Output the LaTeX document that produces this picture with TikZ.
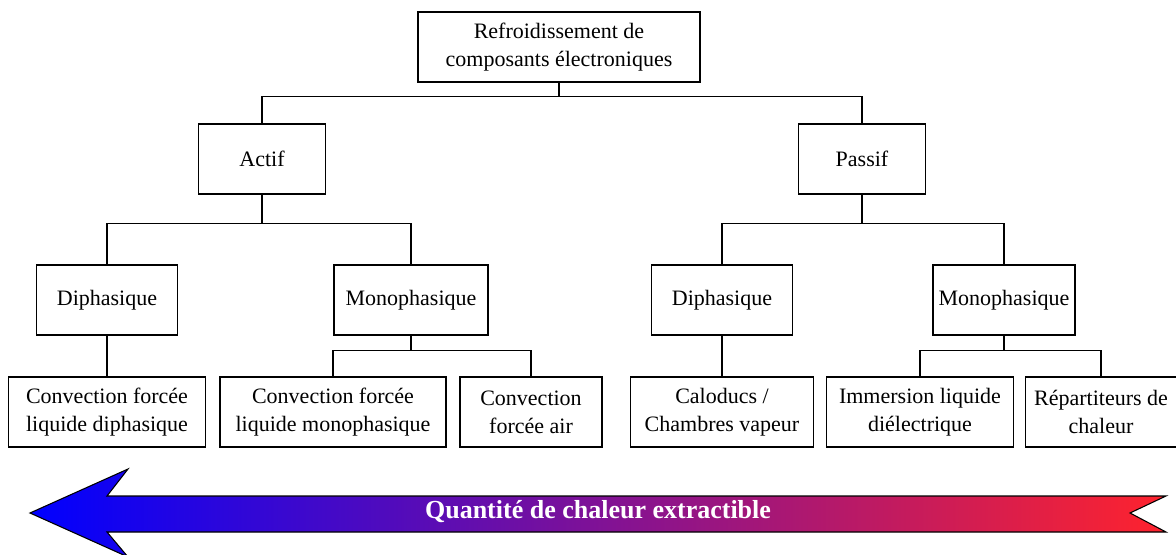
\documentclass[tikz,border=0pt]{standalone}
\usepackage{fontspec}
\setmainfont{Liberation Serif}
\usetikzlibrary{positioning}
\definecolor{froidbleu}{RGB}{0,0,255}
\definecolor{tiede}{RGB}{125,15,165}
\definecolor{chaudrouge}{RGB}{255,35,45}

\begin{document}
\begin{tikzpicture}[on grid, font=\fontsize{16.5}{21}\selectfont,
    box/.style = {draw, line width=0.8pt, align=center, minimum height=52.5pt, inner sep=2pt},
    link/.style = {line width=0.8pt}]
                \useasboundingbox (0,0) rectangle (882pt,-416.25pt);

                \node (R) [box, minimum width=211.5pt] at (419.25pt,-35.25pt) {Refroidissement de\\composants électroniques};

                \node (A) [box, minimum width=95.25pt, below left = 84pt and 222.75pt of R] {Actif};
                \node (P) [box, minimum width=95.25pt, below right = 84pt and 227.25pt of R] {Passif};

                \node (DA) [box, minimum width=105.75pt, below left = 105.75pt and 116.25pt of A] {Diphasique};
                \node (MA) [box, minimum width=115.5pt, below right = 105.75pt and 111.75pt of A] {Monophasique};
                \node (DP) [box, minimum width=105.75pt, below left = 105.75pt and 105pt of P] {Diphasique};
                \node (MP) [box, minimum width=106.5pt, below right = 105.75pt and 106.5pt of P] {Monophasique};

                \node (CDA) [box, minimum width=147.75pt, below = 84pt of DA] {Convection forcée\\liquide diphasique};
                \node (CMA) [box, minimum width=169.5pt, below left = 84pt and 58.5pt of MA] {Convection forcée\\liquide monophasique};
                \node (CAA) [box, minimum width=106.5pt, below right = 84pt and 90pt of MA] {Convection\\forcée air};
                \node (CAL) [box, minimum width=137.25pt, below = 84pt of DP] {Caloducs /\\Chambres vapeur};
                \node (IMM) [box, minimum width=140.25pt, below left = 84pt and 63pt of MP] {Immersion liquide\\diélectrique};
                \node (REP) [box, minimum width=113.25pt, below right = 84pt and 72.75pt of MP] {Répartiteurs de\\chaleur};

                \draw[link] (R.south) -- ++(0,-10.5pt) -| (A.north);
                \draw[link] (R.south) -- ++(0,-10.5pt) -| (P.north);

                \draw[link] (A.south) -- ++(0,-21.75pt) -| (DA.north);
                \draw[link] (A.south) -- ++(0,-21.75pt) -| (MA.north);
                \draw[link] (P.south) -- ++(0,-21.75pt) -| (DP.north);
                \draw[link] (P.south) -- ++(0,-21.75pt) -| (MP.north);

                \draw[link] (DA) -- (CDA);
                \draw[link] (MA.south) -- ++(0,-11.25pt) -| (CMA.north);
                \draw[link] (MA.south) -- ++(0,-11.25pt) -| (CAA.north);
                \draw[link] (DP) -- (CAL);
                \draw[link] (MP.south) -- ++(0,-11.25pt) -| (IMM.north);
                \draw[link] (MP.south) -- ++(0,-11.25pt) -| (REP.north);

                \path[draw, line width=0.8pt, left color=froidbleu, middle color=tiede, right color=chaudrouge]
                    (22.5pt,-384.75pt) -- (96pt,-351.75pt) -- (80.25pt,-372pt) -- (874.5pt,-372pt)
                    -- (847.5pt,-384.75pt) -- (874.5pt,-399pt) -- (80.25pt,-399pt) -- (96pt,-417.75pt) -- cycle;
                \node (Q) [text=white, font=\fontsize{19.5}{23}\selectfont\bfseries] at (448.5pt,-384pt) {Quantité de chaleur extractible};
            \end{tikzpicture}
\end{document}
